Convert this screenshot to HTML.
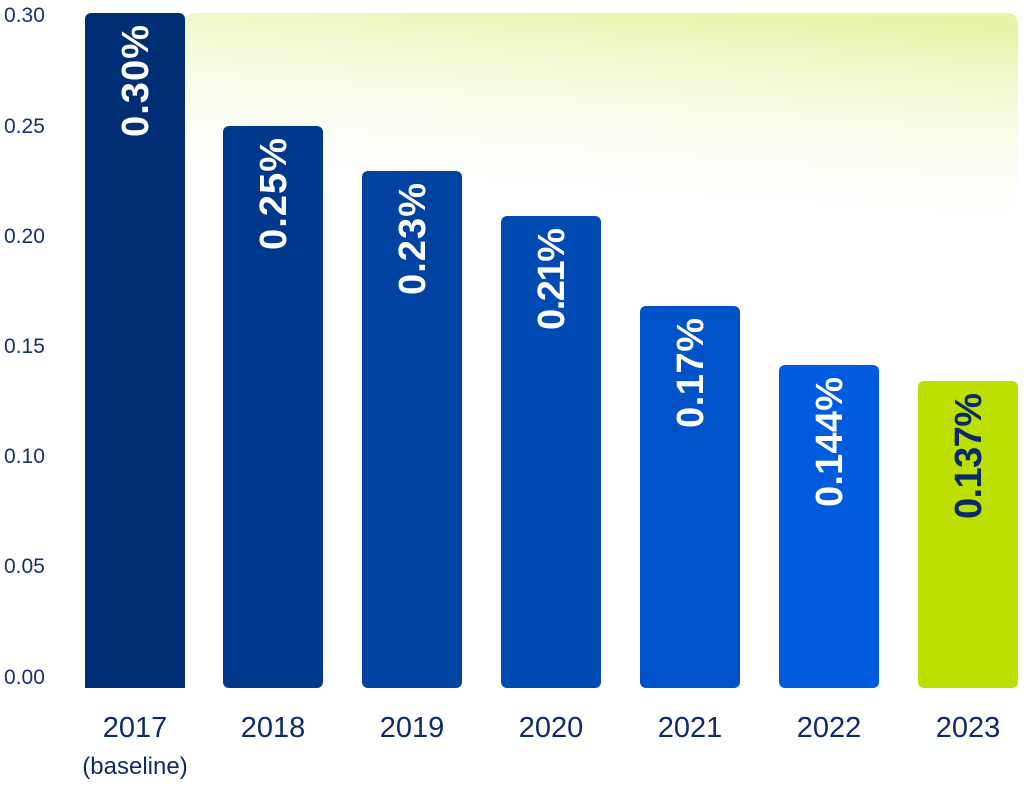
<!DOCTYPE html>
<html><head><meta charset="utf-8"><style>
body{margin:0;width:1024px;height:783px;background:#fff;overflow:hidden;font-family:"Liberation Sans",sans-serif}
</style></head><body>
<svg width="1024" height="783" xmlns="http://www.w3.org/2000/svg">
<defs>
<linearGradient id="bg" x1="0.7" y1="0" x2="0.4" y2="1">
<stop offset="0" stop-color="#e6f3a8"/><stop offset="1" stop-color="#ffffff" stop-opacity="0"/>
</linearGradient>
</defs>
<rect x="185" y="13" width="833" height="200" rx="10" fill="url(#bg)"/>
<g font-size="21" fill="#1a2f6e">
<text x="4" y="22">0.30</text><text x="4" y="133">0.25</text><text x="4" y="243">0.20</text>
<text x="4" y="353">0.15</text><text x="4" y="463">0.10</text><text x="4" y="573">0.05</text><text x="4" y="684">0.00</text>
</g>
<g>
<rect x="85" y="13" width="100" height="675" rx="6" fill="#002e74"/>
<rect x="85" y="680" width="100" height="8" fill="#002e74"/>
<rect x="223" y="126" width="100" height="562" rx="6" fill="#00398c"/>
<rect x="362" y="171" width="100" height="517" rx="6" fill="#0042a0"/>
<rect x="501" y="216" width="100" height="472" rx="6" fill="#004ab3"/>
<rect x="640" y="306" width="100" height="382" rx="6" fill="#0052c8"/>
<rect x="779" y="365" width="100" height="323" rx="6" fill="#005cde"/>
<rect x="918" y="381" width="100" height="307" rx="6" fill="#bde000"/>
</g>
<g font-size="38" font-weight="bold" fill="#fff" text-anchor="end">
<text transform="translate(148,25) rotate(-90)" textLength="112">0.30%</text>
<text transform="translate(286,138) rotate(-90)" textLength="112">0.25%</text>
<text transform="translate(425,183) rotate(-90)" textLength="112">0.23%</text>
<text transform="translate(564,228) rotate(-90)" textLength="102">0.21%</text>
<text transform="translate(703,318) rotate(-90)" textLength="110">0.17%</text>
<text transform="translate(842,377) rotate(-90)" textLength="130">0.144%</text>
<text transform="translate(981,393) rotate(-90)" fill="#0a2a6b" textLength="126">0.137%</text>
</g>
<g font-size="29" fill="#0f2a6b" text-anchor="middle">
<text x="135" y="737">2017</text><text x="273" y="737">2018</text><text x="412" y="737">2019</text>
<text x="551" y="737">2020</text><text x="690" y="737">2021</text><text x="829" y="737">2022</text><text x="968" y="737">2023</text>
<text x="135" y="774" font-size="24">(baseline)</text>
</g>
</svg>
</body></html>
